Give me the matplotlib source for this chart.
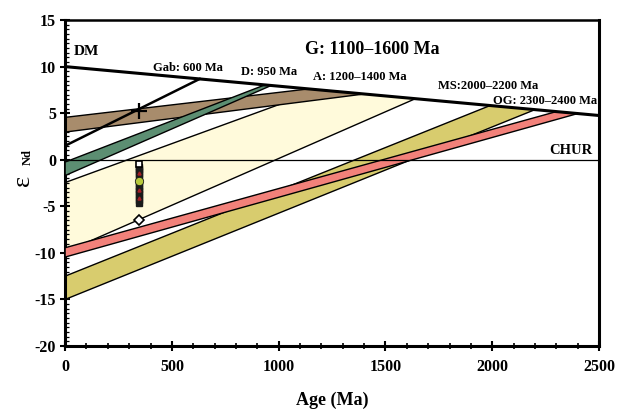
import numpy as np
import matplotlib
matplotlib.use("Agg")
import matplotlib.pyplot as plt
from matplotlib.ticker import MultipleLocator

plt.rcParams['font.family'] = ['Liberation Serif', 'DejaVu Serif']
plt.rcParams['font.weight'] = 'bold'
plt.rcParams['axes.unicode_minus'] = False

# depleted mantle line (age Ma, eps Nd)
dm_age = [0, 2500]
dm_eps = [10.0, 4.75]

# evolution lines: eps Nd today and model age where they leave the DM line
gab_eps0, gab_tdm = 1.5, 630
d_eps0, d_tdm = [-0.25, -1.7], [935, 965]
a_eps0, a_tdm = [4.55, 2.97], [1140, 1400]
g_eps0, g_tdm = [-2.45, -9.9], [1190, 1640]
ms_eps0, ms_tdm = [-12.5, -15.0], [1990, 2200]
og_eps0, og_tdm = [-9.45, -10.45], [2300, 2400]

# samples at ~345 Ma
sample_age = 345
black_eps = [-0.75, -1.0, -1.25, -1.55, -1.85, -2.55, -2.85, -3.1, -3.4, -3.7, -4.0, -4.3, -4.6]
open_sq_eps = [-0.5]
red_eps = [-1.4, -3.25, -4.1]
green_eps = [-2.25]
diamond_eps = [-6.45]
cross_eps = [5.2]


def dm(t):
    return np.interp(t, dm_age, dm_eps)


def band(ax, eps0, tdm, color, z):
    xs = [0, tdm[0]]
    ys = [eps0[0], dm(tdm[0])]
    xs += [tdm[1], 0]
    ys += [dm(tdm[1]), eps0[1]]
    ax.fill(xs, ys, facecolor=color, edgecolor='black', lw=1.0, zorder=z)


fig = plt.figure(figsize=(6.26, 4.09), dpi=100)
ax = fig.add_axes([0.104, 0.154, 0.853, 0.797])

band(ax, g_eps0, g_tdm, '#FFFADB', 1)
band(ax, a_eps0, a_tdm, '#A88C6C', 2)
band(ax, d_eps0, d_tdm, '#5C8E72', 3)
band(ax, ms_eps0, ms_tdm, '#D8CC6E', 2)
band(ax, og_eps0, og_tdm, '#F2817A', 3)

ax.axhline(0, color='black', lw=0.9, zorder=4)
ax.plot(dm_age, dm_eps, color='black', lw=2.2, zorder=6)
ax.plot([0, gab_tdm], [gab_eps0, dm(gab_tdm)], color='black', lw=1.8, zorder=5)

# samples
ax.plot([sample_age] * len(cross_eps), cross_eps, '+', color='black', ms=11, mew=1.6, zorder=7)
ax.plot([sample_age] * len(black_eps), black_eps, 's', color='#1a1a1a', ms=5, zorder=7)
ax.plot([sample_age] * len(open_sq_eps), open_sq_eps, 's', mfc='white', mec='black', ms=5, mew=1.2, zorder=8)
ax.plot([sample_age] * len(red_eps), red_eps, '^', color='#A51E26', ms=2.2, zorder=8)
ax.plot([sample_age] * len(green_eps), green_eps, 'o', mfc='#B8C93C', mec='#1a1a1a', ms=6, mew=0.6, zorder=8)
ax.plot([sample_age] * len(diamond_eps), diamond_eps, 'D', mfc='white', mec='black', ms=5, mew=1.2, zorder=8)

# labels
ax.text(40, 11.6, 'DM', fontsize=11, va='center', ha='left')
ax.text(410, 9.85, 'Gab: 600 Ma', fontsize=9, va='center', ha='left')
ax.text(822, 9.45, 'D: 950 Ma', fontsize=9, va='center', ha='left')
ax.text(1162, 8.85, 'A: 1200\u20131400 Ma', fontsize=9, va='center', ha='left')
ax.text(1124, 11.85, 'G: 1100\u20131600 Ma', fontsize=13, va='center', ha='left')
ax.text(1748, 7.95, 'MS:2000\u20132200 Ma', fontsize=9, va='center', ha='left')
ax.text(2005, 6.33, 'OG: 2300\u20132400 Ma', fontsize=9, va='center', ha='left')
ax.text(2267, 0.97, 'CHUR', fontsize=10.5, va='center', ha='left')

ax.set_xlim(0, 2500)
ax.set_ylim(-20, 15)
ax.xaxis.set_major_locator(MultipleLocator(500))
ax.xaxis.set_minor_locator(MultipleLocator(100))
ax.yaxis.set_major_locator(MultipleLocator(5))
ax.yaxis.set_minor_locator(MultipleLocator(0.5))
ax.tick_params(axis='x', which='major', direction='inout', length=7, width=1.5, labelsize=11.5, pad=6)
ax.tick_params(axis='x', which='minor', direction='inout', length=5, width=1.2)
ax.tick_params(axis='y', which='major', direction='inout', length=7, width=1.5, labelsize=11.5, pad=3)
ax.tick_params(axis='y', which='minor', direction='in', length=3, width=0.9)
for lbl in ax.get_xticklabels() + ax.get_yticklabels():
    lbl.set_fontweight('bold')

for side in ['left', 'bottom', 'right']:
    ax.spines[side].set_linewidth(2.2)
ax.spines['top'].set_linewidth(1.8)

ax.set_xlabel('Age (Ma)', fontsize=13, fontweight='bold', labelpad=12)
fig.text(0.036, 0.56, '\u03b5', fontsize=19, rotation=90, ha='center', va='center', fontweight='normal')
fig.text(0.045, 0.617, 'Nd', fontsize=9, rotation=90, ha='center', va='center')

fig.savefig('out.png', dpi=100)
